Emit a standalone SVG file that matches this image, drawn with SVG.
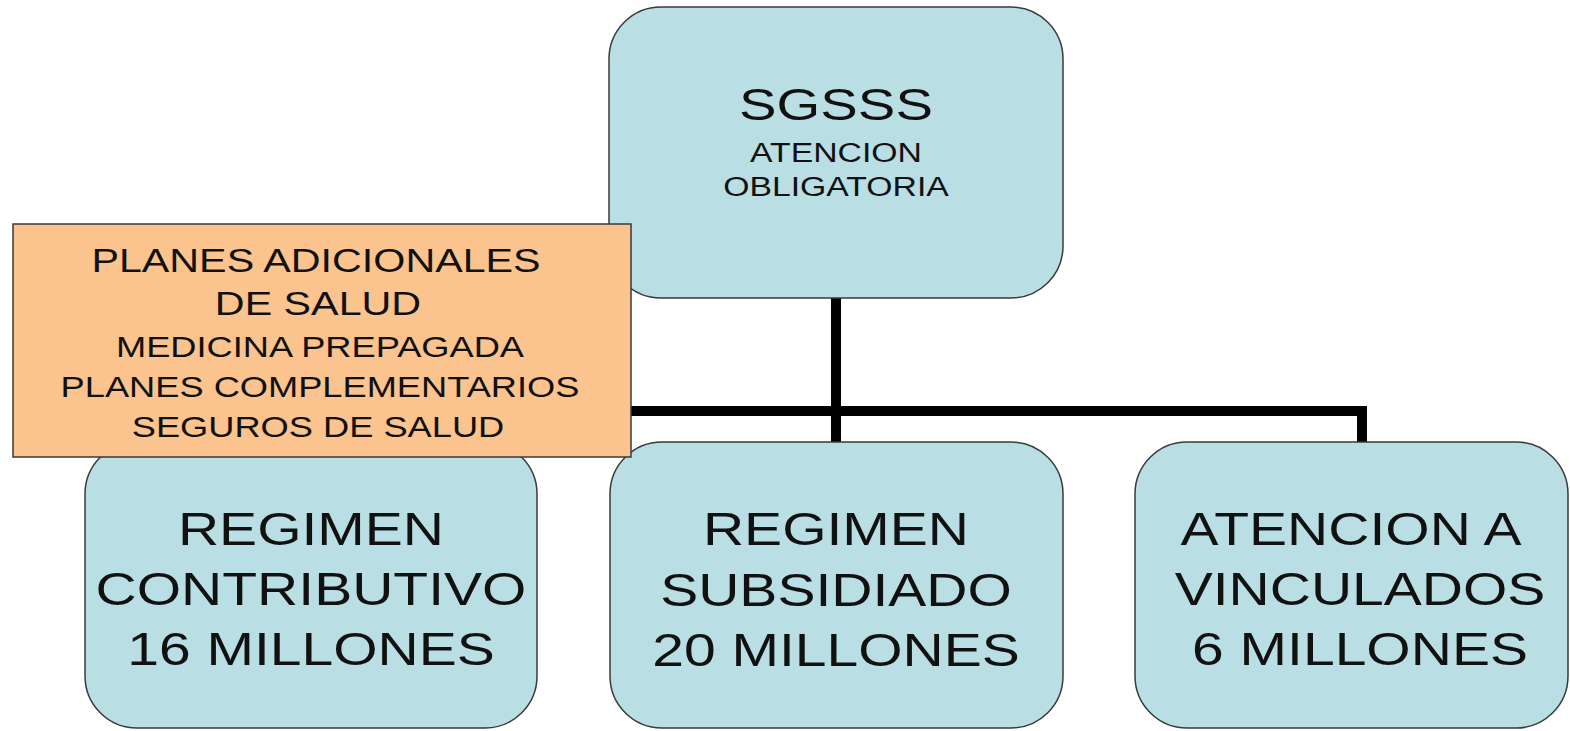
<svg xmlns="http://www.w3.org/2000/svg" width="1570" height="731" viewBox="0 0 1570 731">
<style>
.box{fill:#b9dee3;stroke:#3a3a3a;stroke-width:1.5}
.note{fill:#fbc38e;stroke:#3a3a3a;stroke-width:1.5}
.conn{fill:none;stroke:#000;stroke-width:10;stroke-linecap:butt;stroke-linejoin:miter}
text{font-family:"Liberation Sans",Arial,sans-serif;fill:#111;text-anchor:middle}
.big{font-size:46px}
.title{font-size:45px}
.sub{font-size:27px}
.n1{font-size:33px}
.n2{font-size:29px}
</style>
<rect width="1570" height="731" fill="#fff"/>
<g id="connectors">
<path class="conn" d="M836,298 V442"/>
<path class="conn" d="M311,442 V411 H1362 V442"/>
</g>
<g id="sgsss">
<rect class="box" x="609" y="7" width="454" height="291" rx="52"/>
<text class="title" transform="translate(836,120) scale(1.25,1)">SGSSS</text>
<text class="sub" transform="translate(836,162) scale(1.25,1)">ATENCION</text>
<text class="sub" transform="translate(836,196) scale(1.25,1)">OBLIGATORIA</text>
</g>
<g id="contributivo">
<rect class="box" x="85" y="442" width="452" height="286" rx="52"/>
<text class="big" transform="translate(311,545) scale(1.24,1)">REGIMEN</text>
<text class="big" transform="translate(311,605) scale(1.24,1)">CONTRIBUTIVO</text>
<text class="big" transform="translate(311,665) scale(1.24,1)">16 MILLONES</text>
</g>
<g id="subsidiado">
<rect class="box" x="610" y="442" width="453" height="286" rx="52"/>
<text class="big" transform="translate(836,545) scale(1.24,1)">REGIMEN</text>
<text class="big" transform="translate(836,606) scale(1.24,1)">SUBSIDIADO</text>
<text class="big" transform="translate(836,666) scale(1.24,1)">20 MILLONES</text>
</g>
<g id="vinculados">
<rect class="box" x="1135" y="442" width="433" height="286" rx="52"/>
<text class="big" transform="translate(1351,545) scale(1.24,1)">ATENCION A</text>
<text class="big" transform="translate(1360,605) scale(1.24,1)">VINCULADOS</text>
<text class="big" transform="translate(1360,665) scale(1.24,1)">6 MILLONES</text>
</g>
<g id="planes-adicionales">
<rect class="note" x="13" y="224" width="618" height="233"/>
<text class="n1" transform="translate(316,272) scale(1.25,1)">PLANES ADICIONALES</text>
<text class="n1" transform="translate(318,315) scale(1.25,1)">DE SALUD</text>
<text class="n2" transform="translate(320,357) scale(1.25,1)">MEDICINA PREPAGADA</text>
<text class="n2" transform="translate(320,397) scale(1.25,1)">PLANES COMPLEMENTARIOS</text>
<text class="n2" transform="translate(318,437) scale(1.25,1)">SEGUROS DE SALUD</text>
</g>
</svg>
